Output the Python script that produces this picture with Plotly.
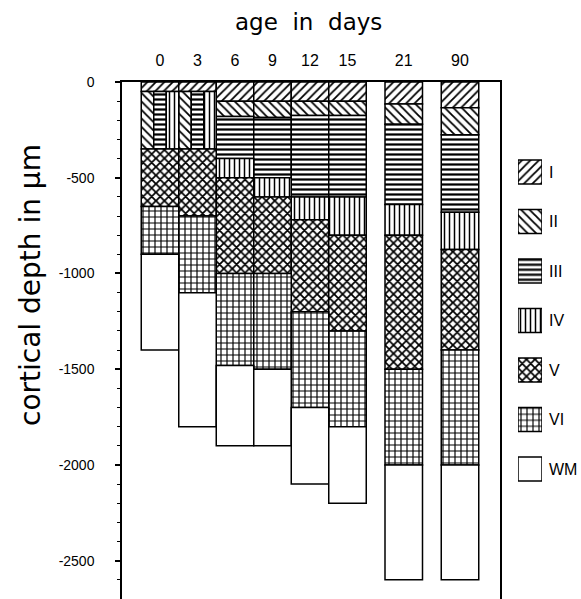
import numpy as np
import plotly.graph_objects as go

# ---------------- data ----------------
days = ["0", "3", "6", "9", "12", "15", "21", "90"]
layers = ["I", "II", "III", "IV", "V", "VI", "WM"]

# lower boundary (depth in µm) of each layer, per age
I_bottom   = [-50, -50, -100, -100, -100, -100, -115, -135]
II_bottom  = [-350, -350, -180, -185, -175, -175, -220, -275]
III_bottom = [-350, -350, -400, -500, -600, -600, -640, -680]
IV_bottom  = [-350, -350, -500, -600, -720, -800, -800, -875]
V_bottom   = [-650, -700, -1000, -1000, -1200, -1300, -1500, -1400]
VI_bottom  = [-900, -1100, -1480, -1500, -1700, -1800, -2000, -2000]
WM_bottom  = [-1400, -1800, -1900, -1900, -2100, -2200, -2600, -2600]
# ages at which layers II-IV are not yet separated (drawn side by side)
undifferentiated = [True, True, False, False, False, False, False, False]

y_tickvals = [0, -500, -1000, -1500, -2000, -2500]
y_ticktext = ["0", "-500", "-1000", "-1500", "-2000", "-2500"]

bottoms = [I_bottom, II_bottom, III_bottom, IV_bottom, V_bottom, VI_bottom, WM_bottom]

# ---------------- styling ----------------
patterns = {
    "I":   dict(shape="/", size=6, solidity=0.3),
    "II":  dict(shape="\\", size=6, solidity=0.3),
    "III": dict(shape="-", size=5, solidity=0.45),
    "IV":  dict(shape="|", size=5, solidity=0.3),
    "V":   dict(shape="x", size=6, solidity=0.5),
    "VI":  dict(shape="+", size=6, solidity=0.35),
    "WM":  dict(shape="", size=6, solidity=0.3),
}
gaps = [0, 1, 1, 1, 1, 1, 1.5, 1.5]
x_pos = np.cumsum(gaps)

W, H = 581, 599
ML, MR, MT, MB = 122, 0, 82, 0
pw, ph = W - ML - MR, H - MT - MB


def px_x(p):
    return (p - ML) / pw


def px_y(p):
    return (H - MB - p) / ph


def pat(name):
    p = patterns[name]
    return dict(shape=p["shape"], size=p["size"], solidity=p["solidity"],
                fgcolor="black", bgcolor="white", fgopacity=1, fillmode="replace")


line = dict(color="black", width=1.5)
fig = go.Figure()

n = len(days)
for li, name in enumerate(layers):
    tops, hts, wid, off = [], [], [], []
    for d in range(n):
        if li == 0:
            top = 0
        elif undifferentiated[d] and name in ("II", "III", "IV"):
            top = I_bottom[d]
        else:
            top = bottoms[li - 1][d]
        bot = bottoms[li][d]
        tops.append(top)
        hts.append(bot - top)
        if undifferentiated[d] and name in ("II", "III", "IV"):
            k = ("II", "III", "IV").index(name)
            wid.append(1 / 3)
            off.append(-0.5 + k / 3)
        else:
            wid.append(1.0)
            off.append(-0.5)
    fig.add_trace(go.Bar(
        x=x_pos, y=hts, base=tops, width=wid, offset=off,
        marker=dict(color="white", line=line, pattern=pat(name)),
        showlegend=False, hoverinfo="skip", xaxis="x", yaxis="y"))

# legend drawn as a small bar column
for li, name in enumerate(layers):
    fig.add_trace(go.Bar(
        x=[0], y=[0.48], base=[li + 0.26], width=[1.0],
        marker=dict(color="white", line=line, pattern=pat(name)),
        showlegend=False, hoverinfo="skip", xaxis="x2", yaxis="y2"))
    fig.add_annotation(x=px_x(547), xref="paper", y=li + 0.5, yref="y2",
                       text=name, showarrow=False, xanchor="left", yanchor="middle",
                       font=dict(family="Liberation Sans", size=16, color="black"))

unit = 37.5
x0 = (122 - 160) / unit
x1 = (500 - 160) / unit

fig.update_layout(
    width=W, height=H,
    margin=dict(l=ML, r=MR, t=MT, b=MB),
    paper_bgcolor="white", plot_bgcolor="white",
    barmode="overlay",
    font=dict(family="Liberation Sans", color="black"),
    xaxis=dict(domain=[0, px_x(500)], range=[x0, x1], side="top",
               showline=True, linecolor="black", linewidth=1.5,
               tickvals=list(x_pos), ticktext=days, ticks="",
               tickfont=dict(family="Liberation Sans Narrow, Liberation Sans", size=16),
               ticklabelstandoff=8,
               showgrid=False, zeroline=False, anchor="y"),
    yaxis=dict(domain=[0, 1], range=[-2700, 0],
               showline=True, mirror=True, linecolor="black", linewidth=1.5,
               tickmode="array", tickvals=y_tickvals, ticktext=y_ticktext,
               ticks="outside", ticklen=5, tickwidth=1.5, tickcolor="black",
               minor=dict(tickmode="linear", tick0=0, dtick=100, ticks="outside",
                          ticklen=3, tickcolor="black", tickwidth=1),
               tickfont=dict(family="Liberation Sans Narrow, Liberation Sans", size=14),
               ticklabelstandoff=18,
               showgrid=False, zeroline=False, anchor="x"),
    xaxis2=dict(domain=[px_x(518), px_x(542)], range=[-0.5, 0.5], visible=False, anchor="y2"),
    yaxis2=dict(domain=[px_y(493.75), px_y(147.25)], range=[7, 0], visible=False, anchor="x2"),
)

fig.add_annotation(x=px_x(30), xref="paper", y=0.5 * (px_y(130) + px_y(440)), yref="paper",
                   text="cortical depth in µm", textangle=-90, showarrow=False,
                   xanchor="center", yanchor="middle",
                   font=dict(family="DejaVu Sans", size=28, color="black"))
fig.add_annotation(x=px_x(308), xref="paper", y=px_y(22), yref="paper",
                   text="age  in  days", showarrow=False, xanchor="center", yanchor="middle",
                   font=dict(family="DejaVu Sans", size=23, color="black"))

fig.write_html("out.html", config={"displayModeBar": False},
               post_script="document.body.style.margin='0';document.body.style.overflow='hidden';")
